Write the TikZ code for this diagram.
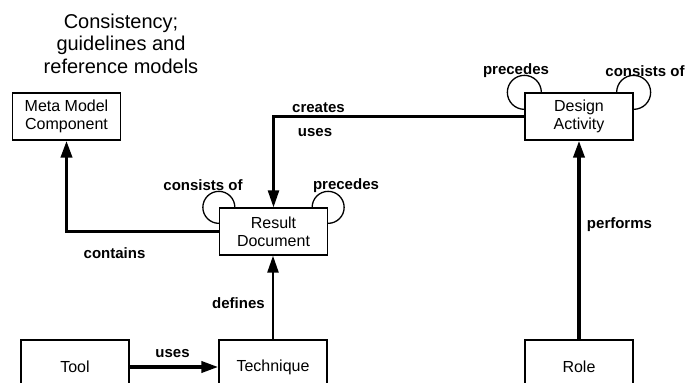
\documentclass[tikz,border=0pt]{standalone}
\usepackage{fontspec}
\setmainfont{Liberation Sans}
\usetikzlibrary{arrows.meta}
\begin{document}
\begin{tikzpicture}[x=1pt,y=-1pt,
  entity/.style={draw, line width=1.3pt, minimum width=108pt, minimum height=47pt,
    inner sep=0pt, align=center, font=\fontsize{16}{18}\selectfont},
  lowentity/.style={entity, minimum height=54pt},
  rel/.style={font=\bfseries\fontsize{15}{17}\selectfont, inner sep=0pt},
  heavy/.style={line width=3.6pt, -{Triangle[length=17pt,width=11pt]}},
  light/.style={line width=2.4pt, -{Triangle[length=17pt,width=11pt]}},
  loopline/.style={line width=1.3pt}]
\clip (0,0) rectangle (686,383);

% title
\node[align=center, inner sep=0pt, font=\fontsize{20}{22.5}\selectfont] (title) at (121,43.5)
  {Consistency;\\guidelines and\\reference models};

% entities
\node[entity] (meta) at (66.5,116.5) {Meta Model\\Component};
\node[entity] (res)  at (273.5,231.5) {Result\\Document};
\node[entity] (da)   at (579,116.5) {Design\\Activity};
\node[lowentity] (tool) at (75,367) {Tool};
\node[lowentity] (tech) at (273,367) {Technique};
\node[lowentity] (role) at (579,367) {Role};

% relations
\draw[heavy] (res.west) -| (meta.south);
\draw[light] (da.west) -| (res.north);
\draw[light] (tech.north) -- (tech.north |- res.south);
\draw[heavy] (tool.east) -- (tech.west);
\draw[heavy] (role.north) -- (da.south);

% self loops
\draw[loopline] (res.north west) ++(16,0) arc[start angle=0, end angle=270, radius=16pt];
\draw[loopline] (res.north east) ++(-16,0) arc[start angle=180, end angle=-90, radius=16pt];
\draw[loopline] (da.north west) ++(17,0) arc[start angle=0, end angle=270, radius=17pt];
\draw[loopline] (da.north east) ++(-17,0) arc[start angle=180, end angle=-90, radius=17pt];

% relation labels
\node[rel] (lcontains) at (114.5,253) {contains};
\node[rel] (lrescons)  at (203,185) {consists of};
\node[rel] (lresprec)  at (346,186) {precedes};
\node[rel] (ldaprec)   at (516,71) {precedes};
\node[rel] (ldacons)   at (645,71) {consists of};
\node[rel] (lcreates)  at (318.5,108) {creates};
\node[rel] (luses)     at (315,133) {uses};
\node[rel] (ldefines)  at (238.5,303) {defines};
\node[rel] (ltooluses) at (172.5,354) {uses};
\node[rel] (lperforms) at (619.5,225) {performs};
\end{tikzpicture}
\end{document}
